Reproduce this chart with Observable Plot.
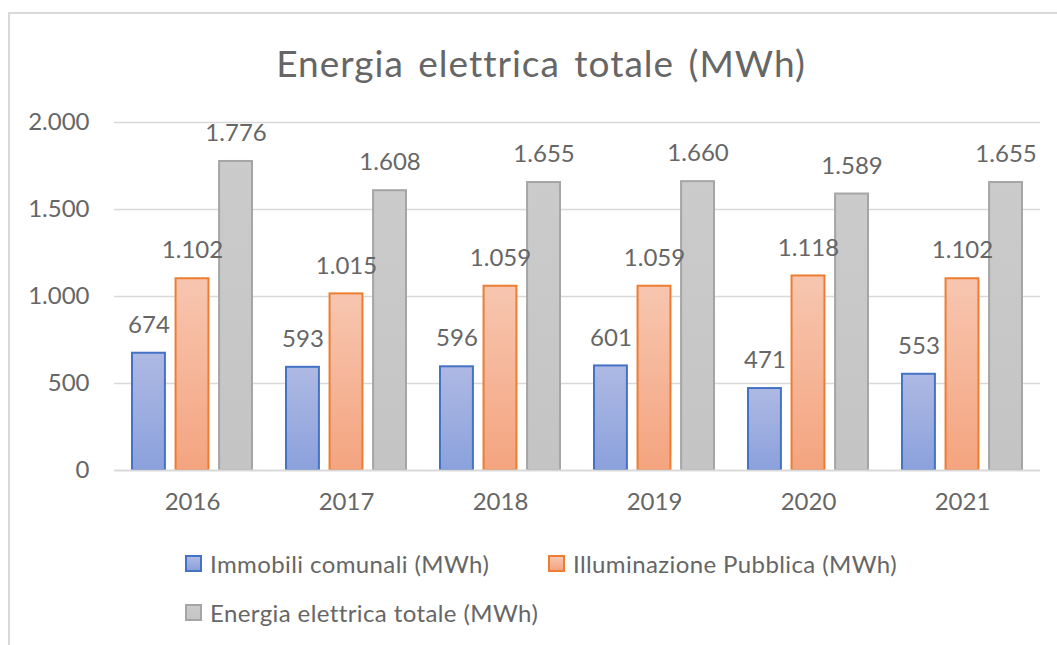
<!DOCTYPE html>
<html>
<head>
<meta charset="utf-8">
<script src="https://cdn.jsdelivr.net/npm/d3@7"></script>
<script src="https://cdn.jsdelivr.net/npm/@observablehq/plot@0.6"></script>
<style>
  html, body { margin: 0; padding: 0; background: #fff; }
  #wrap { position: relative; width: 1057px; height: 645px; overflow: hidden; font-family: Lato, sans-serif; color: #666; }
  #frame { position: absolute; left: 8px; top: 12px; width: 1200px; height: 800px; border-left: 2px solid #d9d9d9; border-top: 2px solid #d9d9d9; }
  #title { position: relative; height: 100px; line-height: 126px; text-align: center; padding-left: 25px; box-sizing: border-box; font-size: 37px; letter-spacing: 1px; word-spacing: 4px; color: #666; }
  #chart { position: relative; height: 440px; }
  #legend { position: relative; height: 105px; font-size: 24px; letter-spacing: 0.4px; }
  .item { position: absolute; display: flex; align-items: center; height: 30px; white-space: nowrap; }
  .sw { width: 13px; height: 13px; border: 2px solid; margin-right: 8px; }
</style>
</head>
<body>
<div id="wrap">
  <div id="frame"></div>
  <div id="title">Energia elettrica totale (MWh)</div>
  <div id="chart"></div>
  <div id="legend"></div>
</div>
<script>
const years = ["2016", "2017", "2018", "2019", "2020", "2021"];
const seriesNames = ["Immobili comunali (MWh)", "Illuminazione Pubblica (MWh)", "Energia elettrica totale (MWh)"];
const immobili = [674, 593, 596, 601, 471, 553];
const illuminazione = [1102, 1015, 1059, 1059, 1118, 1102];
const totale = [1776, 1608, 1655, 1660, 1589, 1655];
const yTicks = [0, 500, 1000, 1500, 2000];

const strokes = ["#4472c4", "#ed7d31", "#a5a5a5"];
const gradIds = ["gBlue", "gOrange", "gGray"];
const gradStops = [["#aeb9e3", "#8ba1dc"], ["#f7c6b0", "#f4a47f"], ["#cbcbcb", "#c4c4c4"]];
const textColor = "#666";

const it = d3.formatLocale({decimal: ",", thousands: ".", grouping: [3], currency: ["", "€"]});
const fmt = it.format(",");

const W = 1057, H = 440;
const mL = 114, mR = 17;
const padInner = 0.21, padOuter = 0.105;
const step = (W - mL - mR) / (years.length - padInner + 2 * padOuter);
const band = step * (1 - padInner);
const subStep = band / (3 - 0.2);
const barW = subStep * 0.8;

const seriesData = [immobili, illuminazione, totale].map((vals, s) =>
  years.map((y, i) => ({year: y, value: vals[i], s}))
);

const marks = [
  Plot.ruleY(yTicks.slice(1), {stroke: "#d9d9d9", strokeWidth: 1.5}),
];
seriesData.forEach((data, s) => {
  const left = s * subStep;
  const right = band - left - barW;
  marks.push(Plot.barY(data, {
    x: "year", y: "value",
    fill: () => `url(#${gradIds[s]})`,
    stroke: () => strokes[s],
    strokeWidth: 2,
    insetLeft: left + 1, insetRight: right + 1
  }));
});
marks.push(Plot.ruleY([0], {stroke: "#d9d9d9", strokeWidth: 2}));
seriesData.forEach((data, s) => {
  const dx = (s - 1) * subStep;
  marks.push(Plot.text(data, {
    x: "year", y: "value", text: d => fmt(d.value),
    dx, dy: -28, fill: textColor, fontSize: 24, lineAnchor: "middle"
  }));
});

const plot = Plot.plot({
  width: W, height: H,
  marginLeft: mL, marginRight: mR, marginTop: 22, marginBottom: 70,
  style: {fontFamily: "Lato, sans-serif", fontSize: "24px", color: textColor, background: "transparent"},
  x: {type: "band", domain: years, paddingInner: padInner, paddingOuter: padOuter, tickSize: 0, tickPadding: 22, label: null},
  y: {domain: [0, 2000], ticks: yTicks, tickFormat: fmt, tickSize: 0, tickPadding: 25, label: null},
  color: {type: "identity"},
  marks
});

// gradient definitions
const defs = d3.select(plot).insert("defs", ":first-child");
gradIds.forEach((id, s) => {
  const g = defs.append("linearGradient").attr("id", id).attr("x1", 0).attr("y1", 0).attr("x2", 0).attr("y2", 1);
  g.append("stop").attr("offset", "0%").attr("stop-color", gradStops[s][0]);
  g.append("stop").attr("offset", "100%").attr("stop-color", gradStops[s][1]);
});
document.getElementById("chart").appendChild(plot);

// legend
const legend = document.getElementById("legend");
const pos = [[185, 8], [548, 8], [185, 57]];
seriesNames.forEach((name, s) => {
  const item = document.createElement("div");
  item.className = "item";
  item.style.left = pos[s][0] + "px";
  item.style.top = pos[s][1] + "px";
  const sw = document.createElement("div");
  sw.className = "sw";
  sw.style.borderColor = strokes[s];
  sw.style.background = `linear-gradient(${gradStops[s][0]}, ${gradStops[s][1]})`;
  const tx = document.createElement("span");
  tx.textContent = name;
  item.appendChild(sw);
  item.appendChild(tx);
  legend.appendChild(item);
});
</script>
</body>
</html>
